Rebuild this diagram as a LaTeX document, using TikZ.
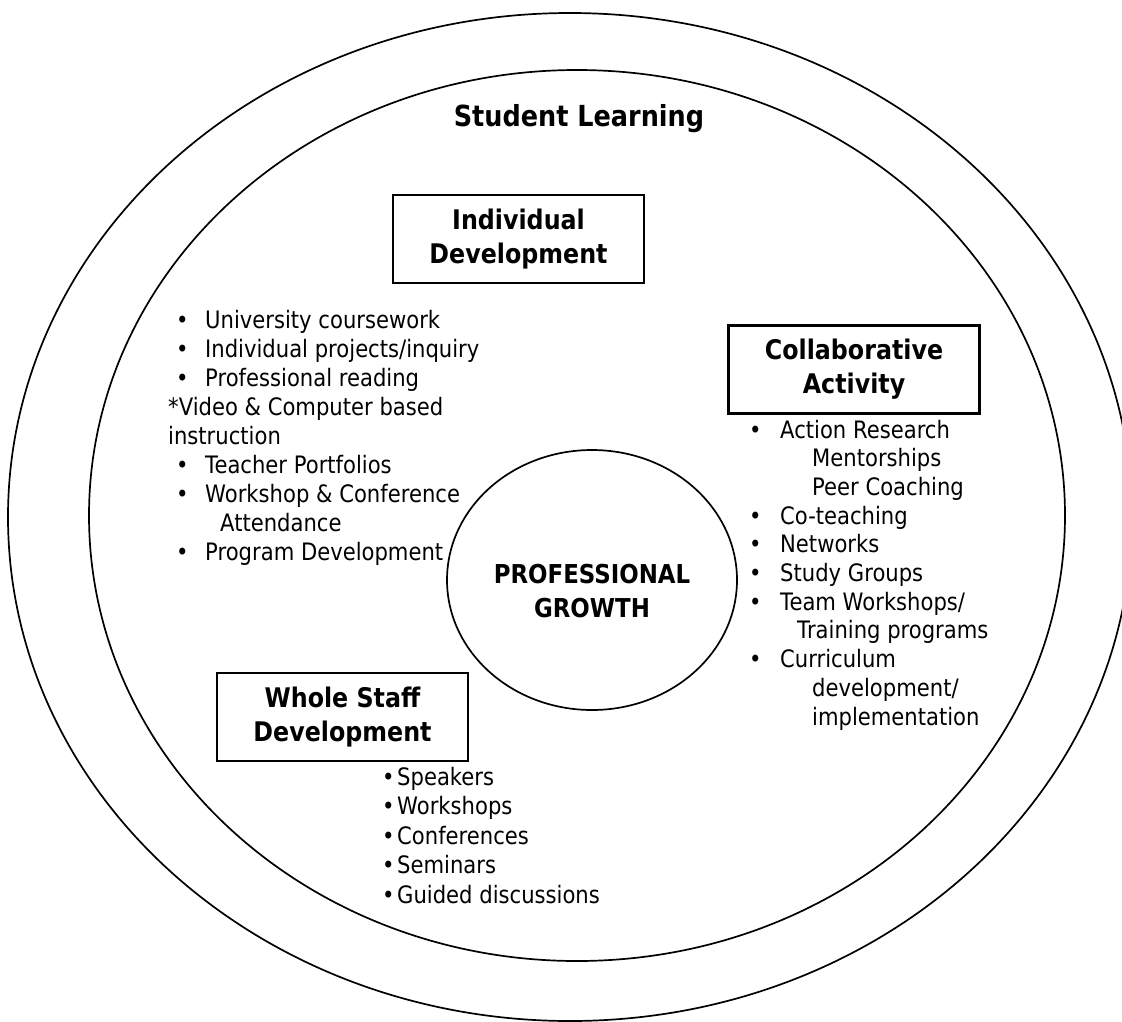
\documentclass[tikz,border=0pt]{standalone}
\usepackage{fontspec}
\setmainfont{DejaVu Sans}[FakeStretch=0.88]
\usetikzlibrary{shapes.geometric}
\newcommand{\bl}[2]{\makebox[#2][l]{\hspace*{#1}\textbullet}} % bullet column
\begin{document}
\begin{tikzpicture}[x=1pt,y=-1pt,
    ring/.style={line width=1.7pt},
    titlebox/.style={draw, line width=2.2pt, minimum width=251pt, minimum height=88pt,
        align=center, font=\fontsize{27}{34}\selectfont\bfseries},
    listtext/.style={inner sep=0pt, anchor=base west, align=left,
        font=\fontsize{24}{29}\selectfont}]
    \useasboundingbox (0,0) rectangle (1122,1021);
    \draw[ring] (570,517) ellipse [x radius=562, y radius=504]; %outer
    \draw[ring] (577,515.5) ellipse [x radius=488, y radius=445.5]; %inner
    \node[anchor=base, font=\fontsize{29}{34}\selectfont\bfseries] (learning) at (579,126) {Student Learning};
    % centre
    \node[draw, ellipse, ring, minimum width=290pt, minimum height=260pt] (growth) at (592,580) {};
    \node[align=center, font=\fontsize{26}{34}\selectfont\bfseries] (growthlabel) at (592,591) {PROFESSIONAL\\GROWTH};
    % boxes
    \node[titlebox] (individual) at (518.5,239) {Individual\\Development};
    \node[titlebox] (collab) at (854,369.5) {Collaborative\\Activity};
    \node[titlebox] (wholestaff) at (342.5,717) {Whole Staff\\Development};
    % lists (anchored on the baseline of their last line)
    \node[listtext] (indivlist) at (168,560) {\bl{8pt}{37pt}University coursework\\
        \bl{8pt}{37pt}Individual projects/inquiry\\
        \bl{8pt}{37pt}Professional reading\\
        *Video \& Computer based\\
        instruction\\
        \bl{8pt}{37pt}Teacher Portfolios\\
        \bl{8pt}{37pt}Workshop \& Conference\\
        \hspace*{52pt}Attendance\\
        \bl{8pt}{37pt}Program Development};
    \node[listtext, font=\fontsize{24}{28.7}\selectfont] (collablist) at (749,725) {\bl{0pt}{31pt}Action Research\\
        \hspace*{63pt}Mentorships\\
        \hspace*{63pt}Peer Coaching\\
        \bl{0pt}{31pt}Co-teaching\\
        \bl{0pt}{31pt}Networks\\
        \bl{0pt}{31pt}Study Groups\\
        \bl{0pt}{31pt}Team Workshops/\\
        \hspace*{48pt}Training programs\\
        \bl{0pt}{31pt}Curriculum\\
        \hspace*{63pt}development/\\
        \hspace*{63pt}implementation};
    \node[listtext, font=\fontsize{24}{29.5}\selectfont] (stafflist) at (382,903) {\bl{0pt}{15pt}Speakers\\
        \bl{0pt}{15pt}Workshops\\
        \bl{0pt}{15pt}Conferences\\
        \bl{0pt}{15pt}Seminars\\
        \bl{0pt}{15pt}Guided discussions};
\end{tikzpicture}
\end{document}
